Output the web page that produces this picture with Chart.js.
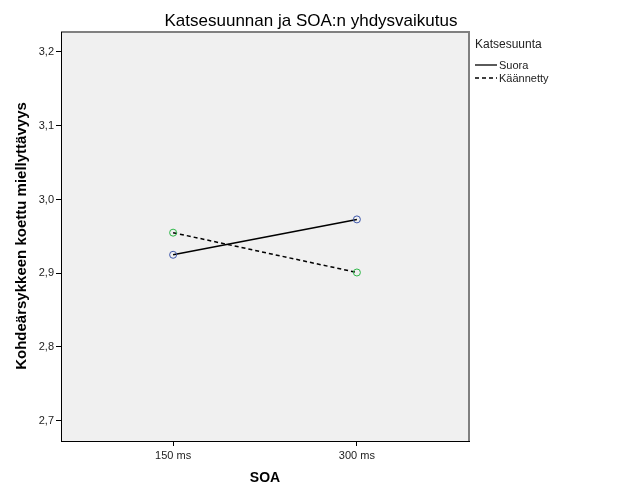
<!DOCTYPE html>
<html>
<head>
<meta charset="utf-8">
<script src="https://cdn.jsdelivr.net/npm/chart.js@4.4.1/dist/chart.umd.min.js"></script>
<style>
  html, body { margin: 0; padding: 0; background: #fff; }
  #wrap { width: 626px; height: 501px; }
</style>
</head>
<body>
<div id="wrap"><canvas id="chart" width="626" height="501"></canvas></div>
<script>
// data
const soaLabels = ["150 ms", "300 ms"];
const suora = [2.925, 2.973];
const kaannetty = [2.955, 2.901];
const yTicks = [2.7, 2.8, 2.9, 3.0, 3.1, 3.2];

const FONT = "'Liberation Sans', Arial, sans-serif";

const toPoints = (arr) => arr.map((v, i) => ({ x: i, y: v }));

// background, frame, titles and legend
const decor = {
  id: "decor",
  beforeDraw(chart) {
    const { ctx, chartArea: a } = chart;
    ctx.save();
    ctx.fillStyle = "#f0f0f0";
    ctx.fillRect(a.left, a.top, a.right - a.left, a.bottom - a.top);
    ctx.strokeStyle = "#808080";
    ctx.lineWidth = 2;
    ctx.beginPath();
    ctx.moveTo(a.left, a.top);
    ctx.lineTo(a.right, a.top);
    ctx.lineTo(a.right, a.bottom);
    ctx.stroke();
    ctx.restore();
  },
  afterDraw(chart) {
    const { ctx, chartArea: a } = chart;
    ctx.save();
    ctx.fillStyle = "#000";
    ctx.textAlign = "center";
    ctx.textBaseline = "middle";

    // otsikko
    ctx.font = "17px " + FONT;
    ctx.fillText("Katsesuunnan ja SOA:n yhdysvaikutus", 311, 21);

    // akselien otsikot
    ctx.font = "bold 14px " + FONT;
    ctx.fillText("SOA", (a.left + a.right) / 2, 478);
    ctx.save();
    ctx.translate(22, 236);
    ctx.rotate(-Math.PI / 2);
    ctx.font = "bold 15px " + FONT;
    ctx.fillText("Kohdeärsykkeen koettu miellyttävyys", 0, 0);
    ctx.restore();

    // selite
    ctx.textAlign = "left";
    ctx.fillStyle = "#222";
    ctx.font = "12px " + FONT;
    ctx.fillText("Katsesuunta", 475, 45);
    ctx.font = "11px " + FONT;
    chart.data.datasets.forEach((ds, i) => {
      const y = 65 + i * 13;
      ctx.strokeStyle = "#000";
      ctx.lineWidth = 1.3;
      ctx.setLineDash(ds.borderDash || []);
      ctx.beginPath();
      ctx.moveTo(475, y);
      ctx.lineTo(497, y);
      ctx.stroke();
      ctx.setLineDash([]);
      ctx.fillText(ds.label, 499, y + 0.5);
    });
    ctx.restore();
  },
};

new Chart(document.getElementById("chart"), {
  type: "line",
  data: {
    datasets: [
      {
        label: "Suora",
        data: toPoints(suora),
        borderColor: "#000",
        borderWidth: 1.5,
        pointRadius: 3.5,
        pointBorderWidth: 1,
        pointBorderColor: "#3e58ac",
        pointBackgroundColor: "rgba(0,0,0,0)",
      },
      {
        label: "Käännetty",
        data: toPoints(kaannetty),
        borderColor: "#000",
        borderWidth: 1.5,
        borderDash: [4, 3],
        pointRadius: 3.5,
        pointBorderWidth: 1,
        pointBorderColor: "#2eb848",
        pointBackgroundColor: "rgba(0,0,0,0)",
      },
    ],
  },
  options: {
    responsive: false,
    animation: false,
    events: [],
    layout: { padding: { top: 32, right: 157, left: 0, bottom: 0 } },
    plugins: { legend: { display: false }, title: { display: false }, tooltip: { enabled: false } },
    scales: {
      x: {
        type: "linear",
        min: -0.61,
        max: 1.61,
        afterBuildTicks: (s) => { s.ticks = soaLabels.map((_, i) => ({ value: i })); },
        afterFit: (s) => { s.height = 60; },
        grid: { drawOnChartArea: false, drawTicks: true, tickLength: 5, color: "#000" },
        border: { color: "#000", width: 1 },
        ticks: {
          padding: 3,
          color: "#222",
          font: { family: FONT, size: 11 },
          callback: (v) => soaLabels[v],
        },
      },
      y: {
        min: 2.6725,
        max: 3.2271,
        afterBuildTicks: (s) => { s.ticks = yTicks.map((v) => ({ value: v })); },
        afterFit: (s) => { s.width = 61; },
        grid: { drawOnChartArea: false, drawTicks: true, tickLength: 5, color: "#000" },
        border: { color: "#000", width: 1 },
        ticks: {
          padding: 2,
          color: "#222",
          font: { family: FONT, size: 11 },
          callback: (v) => v.toFixed(1).replace(".", ","),
        },
      },
    },
  },
  plugins: [decor],
});
</script>
</body>
</html>
